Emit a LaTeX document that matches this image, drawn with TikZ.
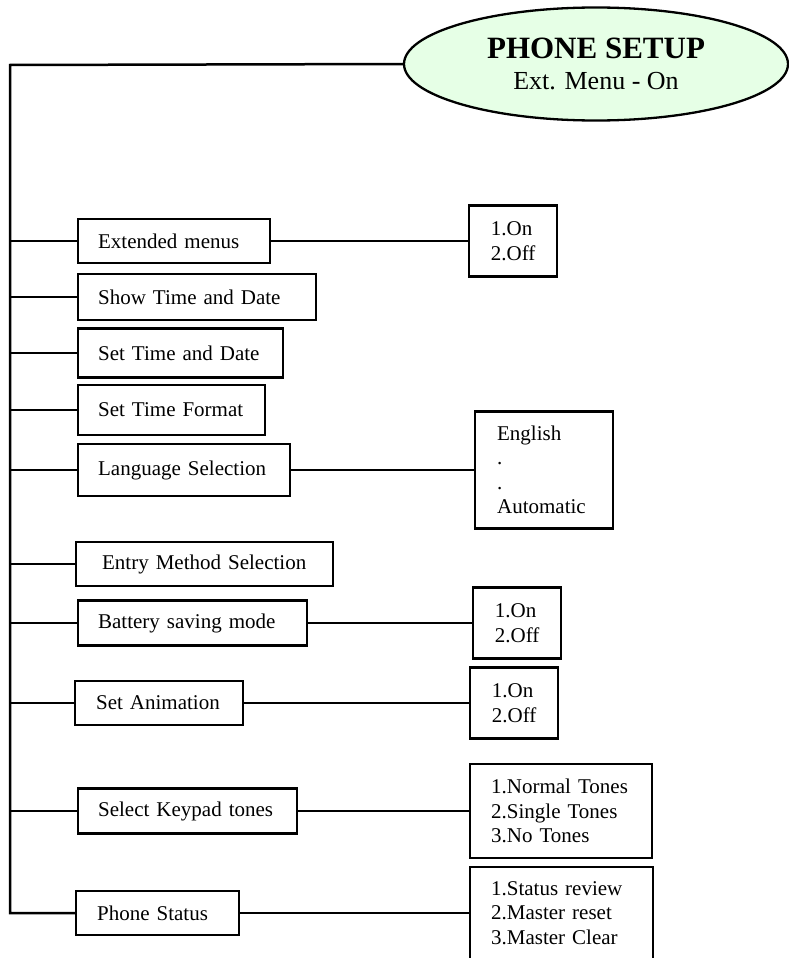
\documentclass[tikz,border=0pt]{standalone}
\usepackage{fontspec}
\setmainfont{Liberation Serif}
\usetikzlibrary{shapes.geometric}
\definecolor{setupgreen}{RGB}{230,255,230}
\tikzset{
  menubox/.style={draw, line width=2.3pt, anchor=west, align=left, inner xsep=0pt, inner ysep=0pt,
    font=\fontsize{21}{24.5}\selectfont, execute at begin node={\leftskip=#1\relax}},
  menubox/.default=20pt,
  optbox/.style={draw, line width=2.3pt, anchor=west, align=left, inner ysep=0pt,
    font=\fontsize{21}{24.5}\selectfont},
  link/.style={line width=2.5pt}
}
\begin{document}
\begin{tikzpicture}[x=1pt,y=-1pt]
\useasboundingbox (0,0) rectangle (789,958);
% title
\node[ellipse, draw, fill=setupgreen, line width=2.3pt, minimum width=384pt, minimum height=113pt,
  inner sep=0pt, align=center, text depth=0pt, font=\fontsize{26}{31}\selectfont] (setup) at (596,64)
  {{\fontsize{31}{31}\selectfont\bfseries PHONE SETUP}\\Ext. Menu - On};
\coordinate (top) at (10,65);
% menu items
\node[menubox, text width=192pt, minimum height=44pt] (ext) at (77,241) {Extended menus};
\node[menubox, text width=238pt, minimum height=46pt] (show) at (77,297) {Show Time and Date};
\node[menubox, text width=205pt, minimum height=49pt] (settd) at (77,353) {Set Time and Date};
\node[menubox, text width=187pt, minimum height=50pt] (fmt) at (77,410) {Set Time Format};
\node[menubox, text width=212pt, minimum height=52pt] (lang) at (77,470) {Language Selection};
\node[menubox=26pt, text width=257pt, minimum height=44pt] (entry) at (75,564) {Entry Method Selection};
\node[menubox, text width=229pt, minimum height=45pt] (bat) at (77,623) {Battery saving mode};
\node[menubox=21pt, text width=168pt, minimum height=44pt] (anim) at (74,703) {Set Animation};
\node[menubox, text width=219pt, minimum height=45pt] (key) at (77,811) {Select Keypad tones};
\node[menubox=21pt, text width=163pt, minimum height=44pt] (stat) at (75,913) {Phone Status};
% options
\node[optbox, minimum width=88pt, minimum height=71pt] (extopt) at (468,241) {1.On\\2.Off};
\node[menubox=22pt, text width=138pt, minimum height=117pt] (langopt) at (474,470)
  {English\\.\\.\\Automatic};
\node[optbox, minimum width=88pt, minimum height=71pt] (batopt) at (472,623) {1.On\\2.Off};
\node[optbox, minimum width=88pt, minimum height=71pt] (animopt) at (469,703) {1.On\\2.Off};
\node[menubox=21pt, text width=182pt, minimum height=94pt] (keyopt) at (469,811)
  {1.Normal Tones\\2.Single Tones\\3.No Tones};
\node[menubox=21pt, text width=183pt, minimum height=92pt] (statopt) at (469,913)
  {1.Status review\\2.Master reset\\3.Master Clear};
% connectors
\draw[link] (setup.west) -- (top) -- (top |- stat.west) -- (stat.west);
\foreach \n in {ext,show,settd,fmt,lang,entry,bat,anim,key}
  \draw[link] (top |- \n.west) -- (\n.west);
\foreach \n in {ext,lang,bat,anim,key,stat}
  \draw[link] (\n.east) -- (\n opt.west);
\end{tikzpicture}
\end{document}
